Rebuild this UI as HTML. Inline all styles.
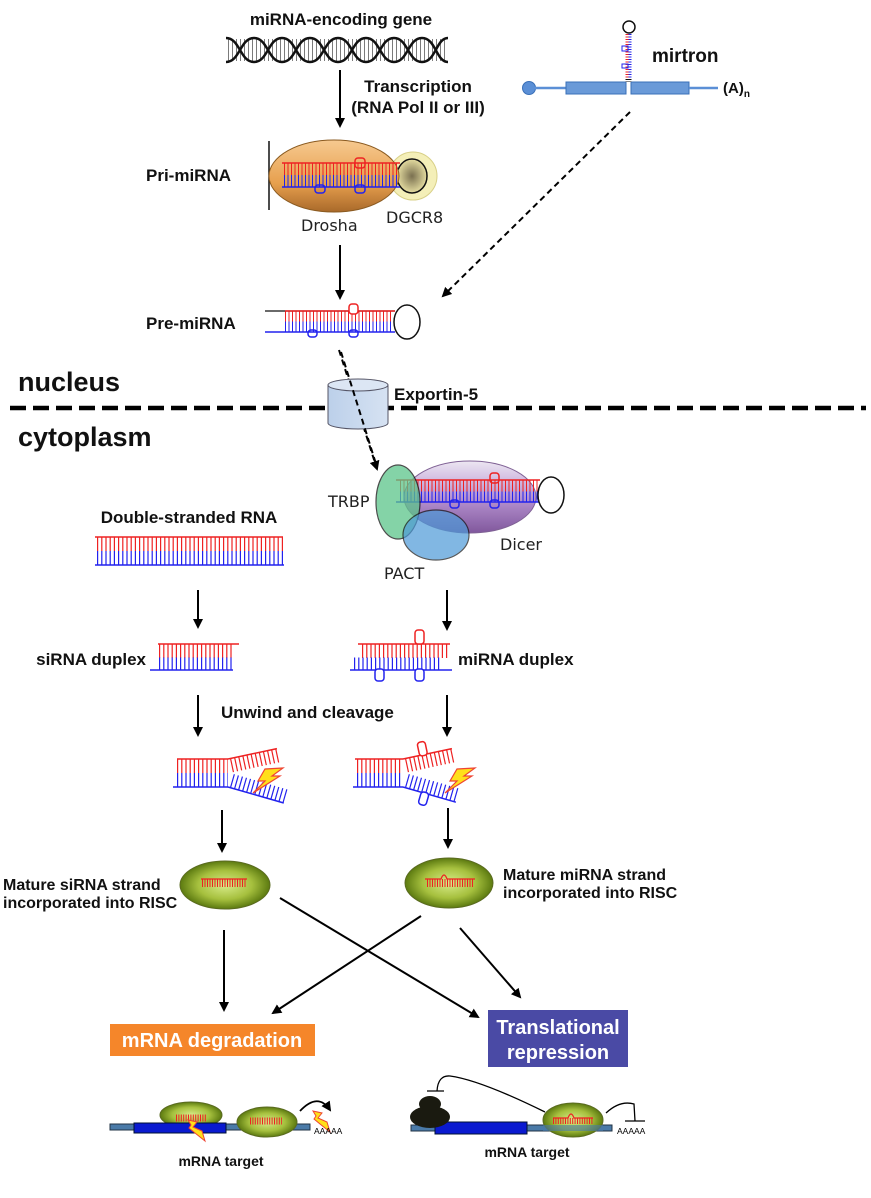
<!DOCTYPE html>
<html><head><meta charset="utf-8"><style>
html,body{margin:0;padding:0;background:#fff}
svg{display:block}
.b{font-family:"Liberation Sans",sans-serif;font-weight:bold;fill:#111}
.c{font-family:"DejaVu Sans",sans-serif;fill:#222}
</style></head><body>
<svg width="871" height="1198" viewBox="0 0 871 1198" xmlns="http://www.w3.org/2000/svg">
<defs>
<marker id="ah" markerWidth="10" markerHeight="10" refX="8" refY="5" orient="auto" markerUnits="userSpaceOnUse"><path d="M0,0 L10,5 L0,10 Z" fill="#000"/></marker>
<radialGradient id="gr" cx="50%" cy="50%" r="50%"><stop offset="0" stop-color="#d8ec8a"/><stop offset="0.6" stop-color="#a6c03e"/><stop offset="1" stop-color="#5c7a10"/></radialGradient>
<linearGradient id="og" x1="0" y1="0" x2="0" y2="1"><stop offset="0" stop-color="#f6c990"/><stop offset="0.6" stop-color="#e7a04e"/><stop offset="1" stop-color="#a9692a"/></linearGradient>
<linearGradient id="pg" x1="0" y1="0" x2="0" y2="1"><stop offset="0" stop-color="#ece6f2"/><stop offset="0.5" stop-color="#b58fd0"/><stop offset="1" stop-color="#7a4f98"/></linearGradient>
<linearGradient id="cg" x1="0" y1="0" x2="1" y2="0"><stop offset="0" stop-color="#bcd0ea"/><stop offset="1" stop-color="#d6e2f2"/></linearGradient>
<radialGradient id="dg"><stop offset="0" stop-color="#7a7050"/><stop offset="1" stop-color="#e4dca0"/></radialGradient>
</defs>

<!-- top gene -->
<text class="b" x="341" y="25" font-size="17" text-anchor="middle">miRNA-encoding gene</text>
<g fill="none" stroke="#111" stroke-width="2.5">
<path d="M226,62 C240,62 240,38 254,38 S268,62 282,62 S296,38 310,38 S324,62 338,62 S352,38 366,38 S380,62 394,62 S408,38 422,38 S436,62 448,62"/>
<path d="M226,38 C240,38 240,62 254,62 S268,38 282,38 S296,62 310,62 S324,38 338,38 S352,62 366,62 S380,38 394,38 S408,62 422,62 S436,38 448,38"/>
</g>
<line x1="228" y1="50" x2="446" y2="50" stroke="#111" stroke-width="22" stroke-dasharray="1 3" opacity="0.55"/>
<line x1="340" y1="70" x2="340" y2="126" stroke="#000" stroke-width="2" marker-end="url(#ah)"/>
<text class="b" x="418" y="92" font-size="17" text-anchor="middle">Transcription</text>
<text class="b" x="418" y="113" font-size="17" text-anchor="middle">(RNA Pol II or III)</text>

<!-- mirtron -->
<circle cx="529" cy="88" r="6.5" fill="#5b8fd6" stroke="#3a70b8"/>
<line x1="529" y1="88" x2="566" y2="88" stroke="#5b8fd6" stroke-width="2.5"/>
<rect x="566" y="82" width="60" height="12" fill="#6a9ad8" stroke="#3a70b8"/>
<rect x="631" y="82" width="58" height="12" fill="#6a9ad8" stroke="#3a70b8"/>
<line x1="689" y1="88" x2="718" y2="88" stroke="#5b8fd6" stroke-width="2.5"/>
<line x1="628.5" y1="34" x2="628.5" y2="82" stroke="#111" stroke-width="6" stroke-dasharray="1 1.5"/>
<line x1="627" y1="34" x2="627" y2="78" stroke="#e22" stroke-width="3" stroke-dasharray="1 1.5"/>
<line x1="630" y1="34" x2="630" y2="78" stroke="#22e" stroke-width="3" stroke-dasharray="1 1.5"/>
<rect x="622" y="46" width="6" height="5" fill="none" stroke="#22e" stroke-width="1"/>
<rect x="622" y="64" width="6" height="4" fill="none" stroke="#22e" stroke-width="1"/>
<circle cx="629" cy="27" r="6" fill="#fff" stroke="#111" stroke-width="1.5"/>
<text class="b" x="652" y="62" font-size="19">mirtron</text>
<text class="b" x="723" y="93" font-size="15">(A)<tspan font-size="10" dy="4">n</tspan></text>
<line x1="630" y1="112" x2="443" y2="296" stroke="#000" stroke-width="2" stroke-dasharray="6 4" marker-end="url(#ah)"/>

<!-- pri-miRNA -->
<text class="b" x="146" y="181" font-size="17">Pri-miRNA</text>
<line x1="269" y1="141" x2="269" y2="210" stroke="#111" stroke-width="1.5"/>
<circle cx="413" cy="176" r="24" fill="#f4efb8" stroke="#d8d088"/>
<ellipse cx="412" cy="176" rx="15" ry="17" fill="url(#dg)" stroke="#111" stroke-width="1.5"/>
<ellipse cx="334" cy="176" rx="65" ry="36" fill="url(#og)" stroke="#8a5a20"/>
<line x1="284" y1="169" x2="398" y2="169" stroke="#e22" stroke-width="12" stroke-dasharray="1 2.5"/>
<line x1="284" y1="181" x2="398" y2="181" stroke="#22e" stroke-width="12" stroke-dasharray="1 2.5"/>
<line x1="282" y1="163" x2="400" y2="163" stroke="#e22" stroke-width="1.5"/>
<line x1="282" y1="187" x2="400" y2="187" stroke="#22e" stroke-width="1.5"/>
<rect x="355" y="158" width="10" height="10" rx="3" fill="none" stroke="#e22" stroke-width="1.5"/>
<rect x="315" y="185" width="10" height="8" rx="3" fill="none" stroke="#22e" stroke-width="1.5"/>
<rect x="355" y="185" width="10" height="8" rx="3" fill="none" stroke="#22e" stroke-width="1.5"/>
<text class="c" x="301" y="231" font-size="16">Drosha</text>
<text class="c" x="386" y="223" font-size="16">DGCR8</text>
<line x1="340" y1="245" x2="340" y2="298" stroke="#000" stroke-width="2" marker-end="url(#ah)"/>

<!-- pre-miRNA -->
<text class="b" x="146" y="329" font-size="17">Pre-miRNA</text>
<line x1="285" y1="316" x2="393" y2="316" stroke="#e22" stroke-width="11" stroke-dasharray="1 2.5"/>
<line x1="285" y1="327" x2="393" y2="327" stroke="#22e" stroke-width="11" stroke-dasharray="1 2.5"/>
<line x1="265" y1="311" x2="395" y2="311" stroke="#111" stroke-width="1.2"/>
<line x1="265" y1="332" x2="395" y2="332" stroke="#22e" stroke-width="1.5"/>
<line x1="285" y1="311" x2="395" y2="311" stroke="#e22" stroke-width="1.5"/>
<rect x="349" y="304" width="9" height="10" rx="3" fill="#fff" stroke="#e22" stroke-width="1.5"/>
<rect x="308" y="330" width="9" height="7" rx="3" fill="none" stroke="#22e" stroke-width="1.5"/>
<rect x="349" y="330" width="9" height="7" rx="3" fill="none" stroke="#22e" stroke-width="1.5"/>
<ellipse cx="407" cy="322" rx="13" ry="17" fill="#fff" stroke="#111" stroke-width="1.5"/>
<line x1="339" y1="350" x2="377" y2="469" stroke="#000" stroke-width="2" stroke-dasharray="6 4" marker-end="url(#ah)"/>

<!-- membrane -->
<text class="b" x="18" y="391" font-size="27">nucleus</text>
<text class="b" x="18" y="446" font-size="27">cytoplasm</text>
<line x1="10" y1="408" x2="866" y2="408" stroke="#000" stroke-width="4.5" stroke-dasharray="16 7"/>
<path d="M328,385 L328,423 A30,6 0 0 0 388,423 L388,385" fill="url(#cg)" stroke="#556"/>
<ellipse cx="358" cy="385" rx="30" ry="6" fill="#dce6f4" stroke="#556"/>
<line x1="341" y1="352" x2="376" y2="464" stroke="#000" stroke-width="2" stroke-dasharray="6 4"/>
<text class="b" x="394" y="400" font-size="17">Exportin-5</text>

<!-- Dicer complex -->
<ellipse cx="470" cy="497" rx="66" ry="36" fill="url(#pg)" stroke="#7a5a90" opacity="0.95"/>
<line x1="400" y1="486" x2="538" y2="486" stroke="#e22" stroke-width="11" stroke-dasharray="1 2.5"/>
<line x1="400" y1="497" x2="538" y2="497" stroke="#22e" stroke-width="11" stroke-dasharray="1 2.5"/>
<line x1="396" y1="480" x2="540" y2="480" stroke="#e22" stroke-width="1.5"/>
<line x1="396" y1="502" x2="540" y2="502" stroke="#22e" stroke-width="1.5"/>
<rect x="490" y="473" width="9" height="10" rx="3" fill="none" stroke="#e22" stroke-width="1.5"/>
<rect x="450" y="500" width="9" height="8" rx="3" fill="none" stroke="#22e" stroke-width="1.5"/>
<rect x="490" y="500" width="9" height="8" rx="3" fill="none" stroke="#22e" stroke-width="1.5"/>
<ellipse cx="551" cy="495" rx="13" ry="18" fill="#fff" stroke="#111" stroke-width="1.5"/>
<ellipse cx="398" cy="502" rx="22" ry="37" fill="#5cc58a" stroke="#111" stroke-width="1.2" opacity="0.75"/>
<ellipse cx="436" cy="535" rx="33" ry="25" fill="#4d9ad8" stroke="#111" stroke-width="1.2" opacity="0.7"/>
<text class="c" x="328" y="507" font-size="16">TRBP</text>
<text class="c" x="384" y="579" font-size="16">PACT</text>
<text class="c" x="500" y="550" font-size="16">Dicer</text>

<!-- dsRNA -->
<text class="b" x="189" y="523" font-size="17" text-anchor="middle">Double-stranded RNA</text>
<line x1="97" y1="544" x2="283" y2="544" stroke="#e22" stroke-width="14" stroke-dasharray="1.2 3"/>
<line x1="97" y1="558" x2="283" y2="558" stroke="#22e" stroke-width="14" stroke-dasharray="1.2 3"/>
<line x1="95" y1="537" x2="283" y2="537" stroke="#e22" stroke-width="1.5"/>
<line x1="95" y1="565" x2="284" y2="565" stroke="#22e" stroke-width="1.5"/>

<g stroke="#000" stroke-width="2" marker-end="url(#ah)">
<line x1="198" y1="590" x2="198" y2="627"/>
<line x1="447" y1="590" x2="447" y2="629"/>
<line x1="198" y1="695" x2="198" y2="735"/>
<line x1="447" y1="695" x2="447" y2="735"/>
<line x1="222" y1="810" x2="222" y2="851"/>
<line x1="448" y1="808" x2="448" y2="847"/>
<line x1="224" y1="930" x2="224" y2="1010"/>
<line x1="280" y1="898" x2="478" y2="1017"/>
<line x1="421" y1="916" x2="273" y2="1013"/>
<line x1="460" y1="928" x2="520" y2="997"/>
</g>

<!-- siRNA duplex -->
<text class="b" x="146" y="665" font-size="17" text-anchor="end">siRNA duplex</text>
<line x1="159" y1="651" x2="233" y2="651" stroke="#e22" stroke-width="14" stroke-dasharray="1.2 3"/>
<line x1="159" y1="664" x2="233" y2="664" stroke="#22e" stroke-width="13" stroke-dasharray="1.2 3"/>
<line x1="158" y1="644" x2="239" y2="644" stroke="#e22" stroke-width="1.5"/>
<line x1="150" y1="670" x2="233" y2="670" stroke="#22e" stroke-width="1.5"/>

<!-- miRNA duplex -->
<line x1="362" y1="651" x2="448" y2="651" stroke="#e22" stroke-width="14" stroke-dasharray="1.2 3"/>
<line x1="354" y1="664" x2="440" y2="664" stroke="#22e" stroke-width="13" stroke-dasharray="1.2 3"/>
<line x1="358" y1="644" x2="450" y2="644" stroke="#e22" stroke-width="1.5"/>
<line x1="350" y1="670" x2="452" y2="670" stroke="#22e" stroke-width="1.5"/>
<rect x="415" y="630" width="9" height="14" rx="3" fill="#fff" stroke="#e22" stroke-width="1.5"/>
<rect x="375" y="669" width="9" height="12" rx="3" fill="#fff" stroke="#22e" stroke-width="1.5"/>
<rect x="415" y="669" width="9" height="12" rx="3" fill="#fff" stroke="#22e" stroke-width="1.5"/>
<text class="b" x="458" y="665" font-size="17">miRNA duplex</text>
<text class="b" x="221" y="718" font-size="17">Unwind and cleavage</text>

<!-- cleaved left -->
<line x1="177" y1="766" x2="228" y2="766" stroke="#e22" stroke-width="14" stroke-dasharray="1.2 3"/>
<line x1="177" y1="780" x2="228" y2="780" stroke="#22e" stroke-width="14" stroke-dasharray="1.2 3"/>
<line x1="177" y1="759" x2="228" y2="759" stroke="#e22" stroke-width="1.5"/>
<line x1="173" y1="787" x2="228" y2="787" stroke="#22e" stroke-width="1.5"/>
<g transform="rotate(-12 228 759)"><line x1="228" y1="759" x2="278" y2="759" stroke="#e22" stroke-width="1.5"/><line x1="230" y1="766" x2="278" y2="766" stroke="#e22" stroke-width="14" stroke-dasharray="1.2 3"/></g>
<g transform="rotate(16 228 787)"><line x1="228" y1="787" x2="286" y2="787" stroke="#22e" stroke-width="1.5"/><line x1="230" y1="780" x2="286" y2="780" stroke="#22e" stroke-width="14" stroke-dasharray="1.2 3"/></g>
<path d="M265,769 L283,768 L272,776 L280,776 L253,793 L265,781 L258,781 Z" fill="#ffe01a" stroke="#e43" stroke-width="1.2"/>

<!-- cleaved right -->
<line x1="357" y1="766" x2="403" y2="766" stroke="#e22" stroke-width="14" stroke-dasharray="1.2 3"/>
<line x1="357" y1="780" x2="403" y2="780" stroke="#22e" stroke-width="14" stroke-dasharray="1.2 3"/>
<line x1="355" y1="759" x2="403" y2="759" stroke="#e22" stroke-width="1.5"/>
<line x1="353" y1="787" x2="403" y2="787" stroke="#22e" stroke-width="1.5"/>
<g transform="rotate(-12 403 759)"><line x1="403" y1="759" x2="453" y2="759" stroke="#e22" stroke-width="1.5"/><line x1="405" y1="766" x2="453" y2="766" stroke="#e22" stroke-width="14" stroke-dasharray="1.2 3"/><rect x="420" y="746" width="8" height="14" rx="3" fill="#fff" stroke="#e22" stroke-width="1.5"/></g>
<g transform="rotate(16 403 787)"><line x1="403" y1="787" x2="458" y2="787" stroke="#22e" stroke-width="1.5"/><line x1="405" y1="780" x2="458" y2="780" stroke="#22e" stroke-width="14" stroke-dasharray="1.2 3"/><rect x="422" y="786" width="8" height="13" rx="3" fill="#fff" stroke="#22e" stroke-width="1.5"/></g>
<path d="M457,769 L475,768 L464,776 L472,776 L445,793 L457,781 L450,781 Z" fill="#ffe01a" stroke="#e43" stroke-width="1.2"/>

<!-- RISC -->
<ellipse cx="225" cy="885" rx="45" ry="24" fill="url(#gr)" stroke="#5a6a20"/>
<line x1="202" y1="883" x2="246" y2="883" stroke="#e22" stroke-width="8" stroke-dasharray="1 1.5"/>
<line x1="201" y1="879" x2="247" y2="879" stroke="#e22" stroke-width="1.3"/>
<ellipse cx="449" cy="883" rx="44" ry="25" fill="url(#gr)" stroke="#5a6a20"/>
<line x1="427" y1="883" x2="474" y2="883" stroke="#e22" stroke-width="8" stroke-dasharray="1 1.5"/>
<path d="M425,879 L441,879 Q444,871 447,879 L475,879" fill="none" stroke="#e22" stroke-width="1.3"/>
<text class="b" x="3" y="890" font-size="16">Mature siRNA strand</text>
<text class="b" x="3" y="908" font-size="16">incorporated into RISC</text>
<text class="b" x="503" y="880" font-size="16">Mature miRNA strand</text>
<text class="b" x="503" y="898" font-size="16">incorporated into RISC</text>

<!-- outcomes -->
<rect x="110" y="1024" width="205" height="32" fill="#f5862a"/>
<text x="212" y="1047" font-family="Liberation Sans,sans-serif" font-weight="bold" font-size="20" fill="#fff" text-anchor="middle">mRNA degradation</text>
<rect x="488" y="1010" width="140" height="57" fill="#4a4aa5"/>
<text x="558" y="1034" font-family="Liberation Sans,sans-serif" font-weight="bold" font-size="20" fill="#fff" text-anchor="middle">Translational</text>
<text x="558" y="1059" font-family="Liberation Sans,sans-serif" font-weight="bold" font-size="20" fill="#fff" text-anchor="middle">repression</text>

<!-- bottom left -->
<ellipse cx="191" cy="1115" rx="31" ry="13" fill="url(#gr)" stroke="#5a6a20"/>
<rect x="110" y="1124" width="200" height="6" fill="#4a7aa8" stroke="#234"/>
<rect x="134" y="1123" width="92" height="10" fill="#0a1ad0" stroke="#013"/>
<ellipse cx="267" cy="1122" rx="30" ry="15" fill="url(#gr)" stroke="#5a6a20"/>
<line x1="176" y1="1118" x2="207" y2="1118" stroke="#e22" stroke-width="7" stroke-dasharray="1 1.4"/>
<line x1="250" y1="1121" x2="282" y2="1121" stroke="#e22" stroke-width="7" stroke-dasharray="1 1.4"/>
<path d="M188,1120 L197,1122 L193,1127 L202,1131 L205,1141 L195,1133 L189,1128 L191,1125 Z" fill="#ffe01a" stroke="#e43"/>
<path d="M300,1111 Q318,1092 330,1110" fill="none" stroke="#000" stroke-width="1.8" marker-end="url(#ah)"/>
<path d="M313,1111 L322,1113 L318,1118 L327,1122 L330,1132 L320,1124 L314,1119 L316,1116 Z" fill="#ffe01a" stroke="#e43"/>
<text x="314" y="1134" font-family="Liberation Sans,sans-serif" font-size="8.5" fill="#000">AAAAA</text>
<text class="b" x="221" y="1166" font-size="14" text-anchor="middle">mRNA target</text>

<!-- bottom right -->
<rect x="411" y="1125" width="201" height="6" fill="#4a7aa8" stroke="#234"/>
<rect x="435" y="1122" width="92" height="12" fill="#0a1ad0" stroke="#013"/>
<ellipse cx="573" cy="1120" rx="30" ry="17" fill="url(#gr)" stroke="#5a6a20"/>
<rect x="543" y="1125" width="60" height="6" fill="#4a7aa8" opacity="0.6"/>
<path d="M553,1118 L568,1118 Q571,1110 574,1118 L593,1118" fill="none" stroke="#e22" stroke-width="1.2"/>
<line x1="553" y1="1121" x2="593" y2="1121" stroke="#e22" stroke-width="6" stroke-dasharray="1 1.4"/>
<ellipse cx="430" cy="1117" rx="20" ry="11" fill="#1a1a10"/>
<ellipse cx="430" cy="1104" rx="11" ry="8" fill="#1a1a10"/>
<path d="M545,1112 Q480,1080 450,1076 Q438,1075 437,1091" fill="none" stroke="#000" stroke-width="1.3"/>
<line x1="427" y1="1091" x2="444" y2="1091" stroke="#000" stroke-width="1.3"/>
<path d="M606,1113 Q620,1100 634,1104 L635,1121" fill="none" stroke="#000" stroke-width="1.3"/>
<line x1="625" y1="1121" x2="645" y2="1121" stroke="#000" stroke-width="1.3"/>
<text x="617" y="1134" font-family="Liberation Sans,sans-serif" font-size="8.5" fill="#000">AAAAA</text>
<text class="b" x="527" y="1157" font-size="14" text-anchor="middle">mRNA target</text>
</svg>
</body></html>
